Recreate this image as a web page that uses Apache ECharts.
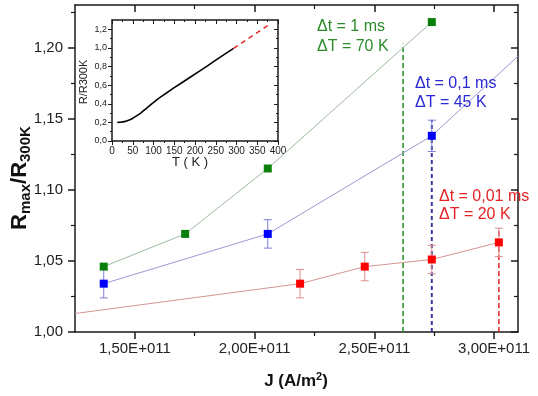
<!DOCTYPE html>
<html><head><meta charset="utf-8">
<script src="https://cdn.jsdelivr.net/npm/echarts@6/dist/echarts.min.js"></script>
<style>html,body{margin:0;padding:0;background:#fff}#c{width:538px;height:396px}</style>
</head><body><div id="c"></div>
<script>
// ---------- main chart data ----------
const greenJ = [1.37e11, 1.71e11, 2.055e11, 2.74e11];
const greenR = [1.046, 1.069, 1.115, 1.218];
const blueJ = [1.37e11, 2.055e11, 2.74e11];
const blueR = [1.034, 1.069, 1.138];
const blueErr = [0.010, 0.010, 0.011];
const blueExtJ = [2.74e11, 3.10e11];
const blueExtR = [1.138, 1.194];
const redJ = [2.19e11, 2.46e11, 2.74e11, 3.02e11];
const redR = [1.034, 1.046, 1.051, 1.063];
const redErr = [0.010, 0.010, 0.010, 0.010];
const redExtJ = [1.25e11, 2.19e11];
const redExtR = [1.013, 1.034];
const greenDashJ = [2.62e11, 2.62e11];
const greenDashR = [1.00, 1.203];
const blueDashJ = [2.74e11, 2.74e11];
const blueDashR = [1.00, 1.149];
const redDashJ = [3.02e11, 3.02e11];
const redDashR = [1.00, 1.073];
const xMin = 1.25e11, xMax = 3.10e11;
const yMin = 1.00, yMax = 1.23;
const xTicks = [1.5e11, 2.0e11, 2.5e11, 3.0e11];
const xMinor = [1.75e11, 2.25e11, 2.75e11];
const yTicks = [1.00, 1.05, 1.10, 1.15, 1.20];
const yMinor = [1.025, 1.075, 1.125, 1.175, 1.225];
// ---------- inset data ----------
const insetT = [13, 20, 30, 40, 50, 60, 70, 80, 90, 110, 130, 150, 190, 230, 270, 293];
const insetR = [0.200, 0.201, 0.208, 0.222, 0.244, 0.272, 0.303, 0.340, 0.378, 0.450, 0.512, 0.573, 0.690, 0.808, 0.928, 0.995];
const insetExtT = [293, 376];
const insetExtR = [0.995, 1.242];
const insetXTicks = [0, 50, 100, 150, 200, 250, 300, 350, 400];
const insetXMinor = [25, 75, 125, 175, 225, 275, 325, 375];
const insetYTicks = [0, 0.2, 0.4, 0.6, 0.8, 1.0, 1.2];
const insetYMinor = [0.1, 0.3, 0.5, 0.7, 0.9, 1.1];

const FONT = 'Liberation Sans, Arial, sans-serif';
const AX = '#1a1a1a';
const zip = (a, b) => a.map((v, i) => [v, b[i]]);

function axis(dim, grid, pos, min, max, ticks, len, inside, showLine, label, lw) {
  return {
    type: 'value', gridIndex: grid, position: pos, min: min, max: max, scale: true,
    axisLine: { show: showLine, onZero: false, lineStyle: { color: AX, width: 1.5 } },
    axisTick: { show: true, inside: inside, length: len, customValues: ticks, lineStyle: { color: AX, width: lw } },
    axisLabel: label ? Object.assign({ show: true, customValues: ticks, fontFamily: FONT, color: '#222' }, label) : { show: false },
    splitLine: { show: false }, minorTick: { show: false }
  };
}

const mainRect = { left: 75, top: 5, width: 443, height: 327 };
const insetRect = { left: 112, top: 20, width: 166, height: 121 };

const xAxes = [
  axis('x', 0, 'bottom', xMin, xMax, xTicks, 7, false, true,
    { fontSize: 15, margin: 9, formatter: v => (v / 1e11).toFixed(2).replace('.', ',') + 'E+011' }, 1.5),
  axis('x', 0, 'top', xMin, xMax, xTicks, 7, true, true, null, 1.5),
  axis('x', 1, 'bottom', xMin, xMax, xMinor, 4, false, false, null, 1.2),
  axis('x', 1, 'top', xMin, xMax, xMinor, 4, true, false, null, 1.2),
  axis('x', 2, 'bottom', 0, 400, insetXTicks, 4, false, true,
    { fontSize: 10, margin: 5, formatter: v => String(v) }, 1),
  axis('x', 2, 'top', 0, 400, insetXTicks, 4, true, true, null, 1),
  axis('x', 3, 'bottom', 0, 400, insetXMinor, 2, false, false, null, 1),
  axis('x', 3, 'top', 0, 400, insetXMinor, 2, true, false, null, 1)
];
const yAxes = [
  axis('y', 0, 'left', yMin, yMax, yTicks, 7, false, true,
    { fontSize: 15, margin: 12, formatter: v => v.toFixed(2).replace('.', ',') }, 1.5),
  axis('y', 0, 'right', yMin, yMax, yTicks, 7, true, true, null, 1.5),
  axis('y', 1, 'left', yMin, yMax, yMinor, 4, false, false, null, 1.2),
  axis('y', 1, 'right', yMin, yMax, yMinor, 4, true, false, null, 1.2),
  axis('y', 2, 'left', 0, 1.3, insetYTicks, 4, false, true,
    { fontSize: 9, margin: 5, formatter: v => v.toFixed(1).replace('.', ',') }, 1),
  axis('y', 2, 'right', 0, 1.3, insetYTicks, 4, true, true, null, 1),
  axis('y', 3, 'left', 0, 1.3, insetYMinor, 2, false, false, null, 1),
  axis('y', 3, 'right', 0, 1.3, insetYMinor, 2, true, false, null, 1)
];

function errSeries(xs, ys, es, color) {
  return {
    type: 'custom', xAxisIndex: 0, yAxisIndex: 0, silent: true, z: 3,
    data: xs.map((x, i) => [x, ys[i] - es[i], ys[i] + es[i]]),
    encode: { x: 0, y: [1, 2] },
    renderItem: function (params, api) {
      const x = api.value(0);
      const lo = api.coord([x, api.value(1)]);
      const hi = api.coord([x, api.value(2)]);
      const w = 4;
      const st = { stroke: color, lineWidth: 1 };
      return { type: 'group', children: [
        { type: 'line', shape: { x1: lo[0], y1: lo[1], x2: hi[0], y2: hi[1] }, style: st },
        { type: 'line', shape: { x1: lo[0] - w, y1: lo[1], x2: lo[0] + w, y2: lo[1] }, style: st },
        { type: 'line', shape: { x1: hi[0] - w, y1: hi[1], x2: hi[0] + w, y2: hi[1] }, style: st }
      ] };
    }
  };
}
function lineSeries(data, lineColor, opts) {
  return Object.assign({
    type: 'line', xAxisIndex: 0, yAxisIndex: 0, data: data, showSymbol: false, symbol: 'none',
    lineStyle: { color: lineColor, width: 1 }, silent: true, z: 2
  }, opts || {});
}
function markSeries(data, color, lineColor) {
  return {
    type: 'line', xAxisIndex: 0, yAxisIndex: 0, data: data, symbol: 'rect', symbolSize: 8,
    itemStyle: { color: color }, lineStyle: { color: lineColor, width: 1 }, z: 5, silent: true
  };
}

const series = [
  lineSeries(zip(greenDashJ, greenDashR), '#1f8f1f', { lineStyle: { color: '#1f8f1f', width: 1.5, type: [5, 3] } }),
  lineSeries(zip(blueDashJ, blueDashR), '#3a3aa0', { lineStyle: { color: '#3a3aa0', width: 2, type: [4, 3] } }),
  lineSeries(zip(redDashJ, redDashR), '#e52424', { lineStyle: { color: '#e52424', width: 1.5, type: [5, 3] } }),
  lineSeries(zip(blueExtJ, blueExtR), '#9a9ad0'),
  lineSeries(zip(redExtJ, redExtR), '#d49494'),
  errSeries(blueJ, blueR, blueErr, '#7d7dd8'),
  errSeries(redJ, redR, redErr, '#e08c8c'),
  markSeries(zip(greenJ, greenR), '#0a800a', '#9fba9f'),
  markSeries(zip(blueJ, blueR), '#0000ff', '#9a9ad0'),
  markSeries(zip(redJ, redR), '#ff0000', '#d49494'),
  { type: 'line', xAxisIndex: 4, yAxisIndex: 4, data: zip(insetT, insetR), showSymbol: false, symbol: 'none',
    smooth: 0.3, lineStyle: { color: '#000', width: 1.6 }, silent: true },
  { type: 'line', xAxisIndex: 4, yAxisIndex: 4, data: zip(insetExtT, insetExtR), showSymbol: false, symbol: 'none',
    lineStyle: { color: '#e02020', width: 1.3, type: [5, 4] }, silent: true }
];

function txt(x, y, text, color, size, extra) {
  return Object.assign({ type: 'text', x: x, y: y, silent: true, z: 100,
    style: { text: text, fill: color, fontSize: size, fontFamily: FONT, align: 'left', verticalAlign: 'middle' } }, extra || {});
}

const graphic = [
  txt(317, 27, 'Δt = 1 ms', '#2b8c2b', 16),
  txt(317, 47, 'ΔT = 70 K', '#2b8c2b', 16),
  txt(415, 84, 'Δt = 0,1 ms', '#2a2ad2', 16),
  txt(415, 103, 'ΔT = 45 K', '#2a2ad2', 16),
  txt(439, 197, 'Δt = 0,01 ms', '#e42424', 16),
  txt(439, 215, 'ΔT = 20 K', '#e42424', 16),
  { type: 'text', x: 20, y: 178, rotation: Math.PI / 2, silent: true, z: 100,
    style: { text: '{a|R}{b|max}{a|/R}{b|300K}', align: 'center', verticalAlign: 'middle', fill: '#111',
      rich: { a: { fontSize: 22, fontWeight: 'bold', fontFamily: FONT, fill: '#111' },
              b: { fontSize: 15, fontWeight: 'bold', fontFamily: FONT, fill: '#111', padding: [11, 0, 0, 0] } } } },
  { type: 'text', x: 296, y: 381, silent: true, z: 100,
    style: { text: '{a|J (A/m}{s|2}{a|)}', align: 'center', verticalAlign: 'middle', fill: '#111',
      rich: { a: { fontSize: 17, fontWeight: 'bold', fontFamily: FONT, fill: '#111' },
              s: { fontSize: 11, fontWeight: 'bold', fontFamily: FONT, fill: '#111', padding: [0, 0, 9, 0] } } } },
  { type: 'text', x: 84, y: 82, rotation: Math.PI / 2, silent: true, z: 100,
    style: { text: 'R/R300K', align: 'center', verticalAlign: 'middle', fill: '#222', fontSize: 11, fontFamily: FONT } },
  { type: 'text', x: 190, y: 162, silent: true, z: 100,
    style: { text: 'T ( K )', align: 'center', verticalAlign: 'middle', fill: '#222', fontSize: 13, fontFamily: FONT } }
];

const chart = echarts.init(document.getElementById('c'), null, { renderer: 'canvas' });
chart.setOption({
  animation: false,
  backgroundColor: '#fff',
  grid: [
    Object.assign({ show: false }, mainRect),
    Object.assign({ show: false }, mainRect),
    Object.assign({ show: true, backgroundColor: '#fff', borderWidth: 0 }, insetRect),
    Object.assign({ show: false }, insetRect)
  ],
  xAxis: xAxes,
  yAxis: yAxes,
  series: series,
  graphic: graphic
});
</script>
</body></html>
